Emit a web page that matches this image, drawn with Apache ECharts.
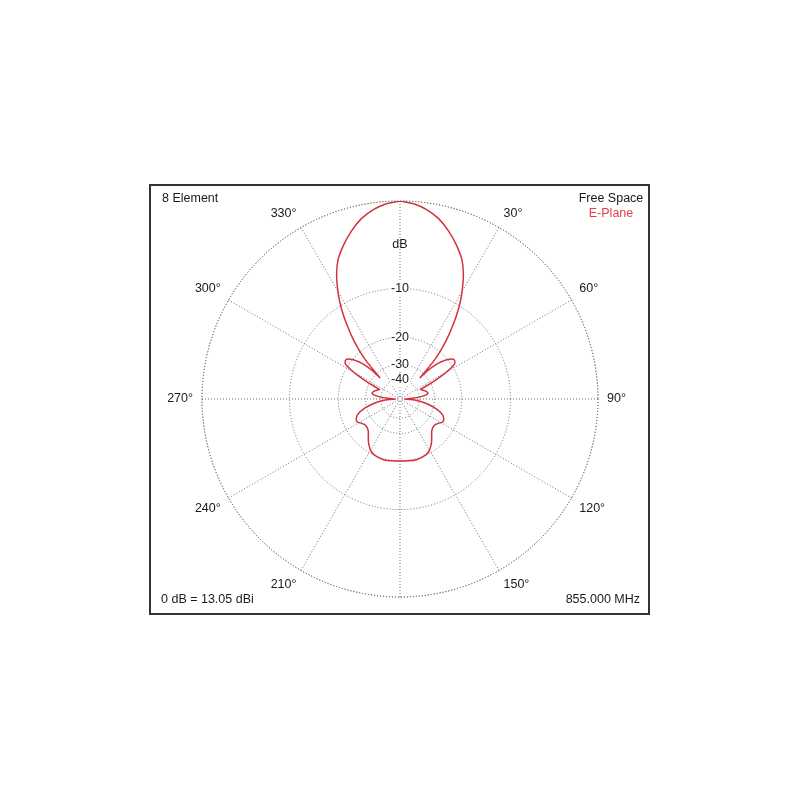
<!DOCTYPE html>
<html>
<head>
<meta charset="utf-8">
<script src="https://cdn.jsdelivr.net/npm/echarts@6/dist/echarts.min.js"></script>
<style>
  html, body { margin: 0; background: #fff; }
  #chart { width: 800px; height: 800px; }
</style>
</head>
<body>
<div id="chart"></div>
<script>
// E-plane pattern: azimuth in degrees (0 = forward, clockwise) and gain in dB below peak
const angles = [
  0, 4, 8, 12, 16, 20, 24, 27, 30, 32, 34, 36, 38, 40, 41.5, 42.5, 43.3,
  44.5, 46, 48, 50, 52, 54.5, 57, 59, 61, 63, 65.5,
  68, 71, 75, 78, 81, 84, 87, 90,
  93, 96, 100, 104, 108, 112, 116, 119, 122, 126, 131, 136, 141, 146, 152, 158, 165, 172, 180,
  188, 195, 202, 208, 214, 219, 224, 229, 234, 238, 241, 244, 248, 252, 256, 260, 264, 267,
  270, 273, 276, 279, 282, 285, 289, 292,
  294.5, 297, 299, 301, 303, 305.5, 308, 310, 312, 314, 315.5,
  316.7, 317.5, 318.5, 320, 322, 324, 326, 328, 330, 333, 336, 340, 344, 348, 352, 356, 360
];
const gainDb = [
  0, -0.2, -0.6, -1.2, -2.1, -3.2, -4.5, -6.0, -8.0, -9.6, -11.5, -13.8, -16.3, -19.6, -23, -27.5, -33,
  -27, -24, -21.8, -20.2, -19.1, -18.6, -19, -21, -24.5, -29.5, -37.5,
  -36, -35, -33.6, -33.2, -34.5, -39, -48, -65,
  -49, -40, -34, -29.5, -26.5, -24.8, -24.1, -24.3, -25.2, -26, -26, -25.2, -23.5, -21.8, -20.4, -19.9, -19.7, -19.8, -19.9,
  -19.8, -19.7, -19.9, -20.4, -21.8, -23.5, -25.2, -26, -26, -25.2, -24.3, -24.1, -24.8, -26.5, -29.5, -34, -40, -49,
  -65, -48, -39, -34.5, -33.2, -33.6, -35, -36,
  -37.5, -29.5, -24.5, -21, -19, -18.6, -19.1, -20.2, -21.8, -24, -27,
  -33, -27.5, -23, -19.6, -16.3, -13.8, -11.5, -9.6, -8.0, -6.0, -4.5, -3.2, -2.1, -1.2, -0.6, -0.2, 0
];
const ringDb = [0, -10, -20, -30, -40];
const angleStep = 30;

// ARRL log-periodic scale: radius shrinks by 0.89 every 2 dB
function arrl(db) { return Math.pow(0.89, -db / 2); }
function fromArrl(v) { return -2 * Math.log(v) / Math.log(0.89); }

const ringValues = ringDb.map(arrl);
const pattern = angles.map((a, i) => [arrl(gainDb[i]), a]);

const gridLine = { color: '#6e6e6e', width: 1, type: [1, 2] };
const font = 'Liberation Sans, Arial, sans-serif';
const fs = 12.5;

const chart = echarts.init(document.getElementById('chart'));
chart.setOption({
  animation: false,
  backgroundColor: '#fff',
  textStyle: { fontFamily: font },
  polar: { center: [400, 399], radius: 198 },
  angleAxis: {
    type: 'value',
    min: 0,
    max: 360,
    interval: angleStep,
    startAngle: 90,
    clockwise: true,
    axisLine: { lineStyle: gridLine },
    axisTick: { show: false },
    axisLabel: {
      margin: 9,
      fontSize: fs,
      color: '#1a1a1a',
      formatter: v => (v % 180 === 0 ? '' : v + '°')
    },
    splitLine: { lineStyle: gridLine }
  },
  radiusAxis: {
    type: 'value',
    min: 0,
    max: 1,
    name: 'dB',
    nameLocation: 'end',
    nameGap: -44,
    nameTextStyle: { fontSize: fs, color: '#1a1a1a', align: 'center', verticalAlign: 'middle' },
    axisLine: { show: false },
    axisTick: { show: false, customValues: ringValues },
    axisLabel: {
      customValues: ringValues,
      margin: 0,
      align: 'center',
      verticalAlign: 'middle',
      fontSize: fs,
      color: '#1a1a1a',
      backgroundColor: '#fff',
      padding: [0, 1],
      formatter: v => {
        const db = Math.round(fromArrl(v));
        return db === 0 ? '' : String(db);
      }
    },
    splitLine: { show: true, lineStyle: gridLine }
  },
  series: [{
    type: 'line',
    coordinateSystem: 'polar',
    data: pattern,
    showSymbol: false,
    smooth: 0.2,
    lineStyle: { color: '#d3323c', width: 1.5 },
    z: 5
  }],
  graphic: [
    { type: 'rect', shape: { x: 150, y: 185, width: 499, height: 429 },
      style: { fill: 'none', stroke: '#333', lineWidth: 2 }, z: 10 },
    { type: 'text', x: 162, y: 199,
      style: { text: '8 Element', font: fs + 'px ' + font, fill: '#1a1a1a', verticalAlign: 'middle' } },
    { type: 'text', x: 611, y: 199,
      style: { text: 'Free Space', font: fs + 'px ' + font, fill: '#1a1a1a', align: 'center', verticalAlign: 'middle' } },
    { type: 'text', x: 611, y: 214,
      style: { text: 'E-Plane', font: fs + 'px ' + font, fill: '#e0404a', align: 'center', verticalAlign: 'middle' } },
    { type: 'text', x: 161, y: 600,
      style: { text: '0 dB = 13.05 dBi', font: fs + 'px ' + font, fill: '#1a1a1a', verticalAlign: 'middle' } },
    { type: 'text', x: 640, y: 600,
      style: { text: '855.000 MHz', font: fs + 'px ' + font, fill: '#1a1a1a', align: 'right', verticalAlign: 'middle' } }
  ]
});
</script>
</body>
</html>
